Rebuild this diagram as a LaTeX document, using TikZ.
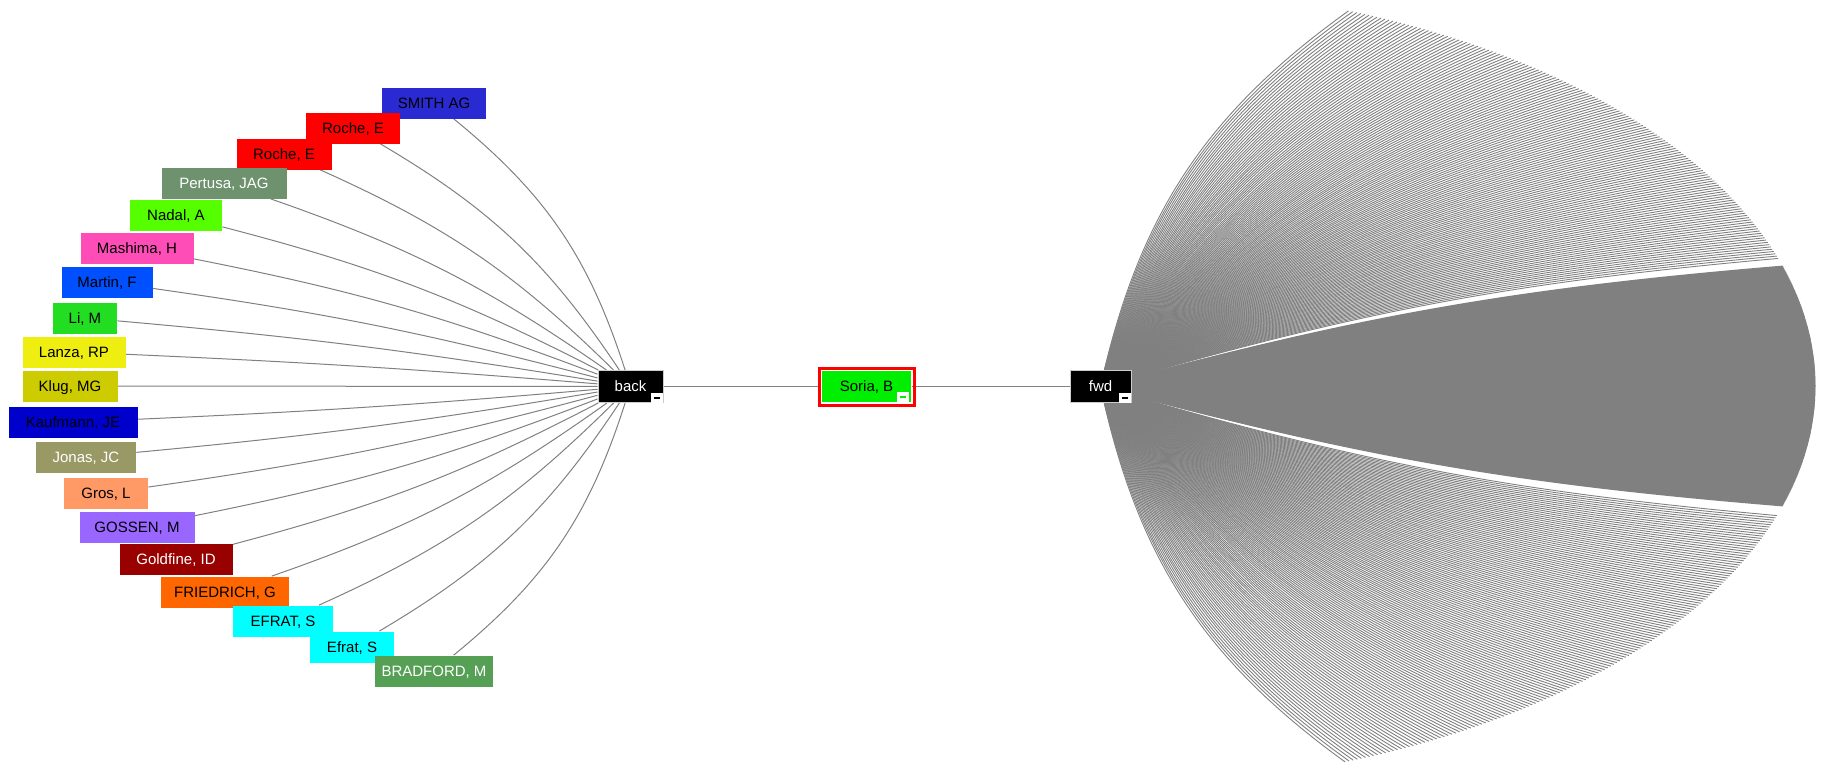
\documentclass[tikz,border=0pt]{standalone}
\usepackage{fontspec}
\setmainfont{Liberation Sans}
\usetikzlibrary{positioning}

\pgfdeclarelayer{edges}
\pgfsetlayers{edges,main}

\definecolor{smithBlue}{RGB}{42,42,210}
\definecolor{pertusaGreen}{RGB}{110,145,110}
\definecolor{nadalGreen}{RGB}{85,255,0}
\definecolor{mashimaPink}{RGB}{255,77,184}
\definecolor{martinBlue}{RGB}{0,80,255}
\definecolor{liGreen}{RGB}{34,221,34}
\definecolor{lanzaYellow}{RGB}{238,238,17}
\definecolor{klugOlive}{RGB}{204,204,0}
\definecolor{kaufmannBlue}{RGB}{0,0,204}
\definecolor{jonasKhaki}{RGB}{153,153,102}
\definecolor{grosSalmon}{RGB}{255,153,102}
\definecolor{gossenPurple}{RGB}{153,102,255}
\definecolor{goldfineRed}{RGB}{153,0,0}
\definecolor{friedrichOrange}{RGB}{255,102,0}
\definecolor{efratCyan}{RGB}{0,255,255}
\definecolor{bradfordGreen}{RGB}{85,160,85}
\definecolor{soriaGreen}{RGB}{0,238,0}
\definecolor{linkGray}{RGB}{128,128,128}

\tikzset{
  labelfont/.style={font=\fontsize{7.5pt}{9pt}\selectfont, text height=5.4pt, text depth=0pt},
  author/.style={fill=#1, labelfont, minimum height=15.5pt, inner sep=0pt},
  hub/.style={fill=black, draw=gray!40, line width=0.5pt, text=white, labelfont, minimum height=16pt, inner sep=0pt},
  link/.style={draw=linkGray, line width=0.5pt},
  fanlink/.style={draw=linkGray, line width=0.45pt},
  fancore/.style={draw=linkGray, line width=0.8pt},
  minusbox/.style={fill=white, minimum width=6pt, minimum height=5pt, inner sep=0pt,
    path picture={\draw[#1, line width=1pt] ([xshift=1.5pt]path picture bounding box.west) -- ([xshift=-1.5pt]path picture bounding box.east);}},
  minusbox/.default=black
}

\begin{document}
\begin{tikzpicture}[x=0.5pt,y=-0.5pt]
	\newcommand{\fanRx}{715}	% half width of the forward fan
	\newcommand{\fanRy}{400}	% half height of the forward fan
	\newcommand{\bendRate}{0.3}	% bend per degree of spread
	
	\useasboundingbox (0,0) rectangle (1821,771);	% canvas
	
	% centre row
	\node[hub, minimum width=32.5pt] (back) at (630.5,386.5) {back};
	\node[fill=soriaGreen, draw=white, line width=0.5pt, labelfont, minimum width=45pt, minimum height=16pt, inner sep=0pt] (soria) at (866.5,386.5) {Soria, B\hspace{4pt}};
	\draw[red, line width=1.5pt] ([shift={(-2,2)}]soria.south west) rectangle ([shift={(2,-2)}]soria.north east);
	\node[hub, minimum width=30.5pt] (fwd) at (1100.5,386.5) {fwd};
	
	% collapse buttons
	\node[minusbox, anchor=south east] (backminus) at (back.south east) {};
	\node[minusbox=soriaGreen, anchor=south east] (soriaminus) at ([shift={(-3,-1)}]soria.south east) {};
	\node[minusbox, anchor=south east] (fwdminus) at (fwd.south east) {};
	
	\begin{pgfonlayer}{edges}
		\draw[link] (back) -- (soria);
		\draw[link] (soria) -- (fwd);
	\end{pgfonlayer}
	
	% backward authors
	\foreach \name/\txt/\x/\y/\w/\col/\tcol/\ang in {
		smith/{SMITH AG}/434/103/104/smithBlue/black/55,
		rocheA/{Roche, E}/353/128/94/red/black/43,
		rocheB/{Roche, E}/284/154/95/red/black/34,
		pertusa/{Pertusa, JAG}/224/183/125/pertusaGreen/white/26,
		nadal/{Nadal, A}/176/215/92/nadalGreen/black/21,
		mashima/{Mashima, H}/137/248/113/mashimaPink/black/16,
		martin/{Martin, F}/107/282/91/martinBlue/black/11,
		li/{Li, M}/85/318/64/liGreen/black/7,
		lanza/{Lanza, RP}/74/352/103/lanzaYellow/black/3.5,
		klug/{Klug, MG}/70/386/95/klugOlive/black/0,
		kaufmann/{Kaufmann, JE}/73/422/129/kaufmannBlue/black/-4,
		jonas/{Jonas, JC}/86/457/100/jonasKhaki/white/-7,
		gros/{Gros, L}/106/493/84/grosSalmon/black/-11.5,
		gossen/{GOSSEN, M}/137/527/115/gossenPurple/black/-16,
		goldfine/{Goldfine, ID}/176/559/113/goldfineRed/white/-21,
		friedrich/{FRIEDRICH, G}/225/592/128/friedrichOrange/black/-27,
		efratA/{EFRAT, S}/283/621/100/efratCyan/black/-34,
		efratB/{Efrat, S}/352/647/84/efratCyan/black/-43,
		bradford/{BRADFORD, M}/434/671/118/bradfordGreen/white/-55}
	{
		\node[author=\col, text=\tcol, minimum width=\w*0.5pt] (\name) at (\x,\y) {\txt};
		\begin{pgfonlayer}{edges}
			\draw[link] (\name) to[bend left=\bendRate*\ang] (back);
		\end{pgfonlayer}
	}
	
	% forward fan
	\begin{pgfonlayer}{edges}
		\foreach \t [count=\i] in {18.6,18.95,...,70} {
			\coordinate (fanup\i) at ({1100.5+\fanRx*cos(\t)},{386-\fanRy*sin(\t)});
			\draw[fanlink] (fwd.center) to[bend left=\bendRate*\t] (fanup\i);
		}
		\foreach \t [count=\i] in {-17.4,-17.25,...,17.4} {
			\coordinate (fanmid\i) at ({1100.5+\fanRx*cos(\t)},{386-\fanRy*sin(\t)});
			\draw[fancore] (fwd.center) to[bend left=\bendRate*\t] (fanmid\i);
		}
		\foreach \t [count=\i] in {-70,-69.65,...,-18.6} {
			\coordinate (fanlow\i) at ({1100.5+\fanRx*cos(\t)},{386-\fanRy*sin(\t)});
			\draw[fanlink] (fwd.center) to[bend left=\bendRate*\t] (fanlow\i);
		}
	\end{pgfonlayer}
\end{tikzpicture}
\end{document}
